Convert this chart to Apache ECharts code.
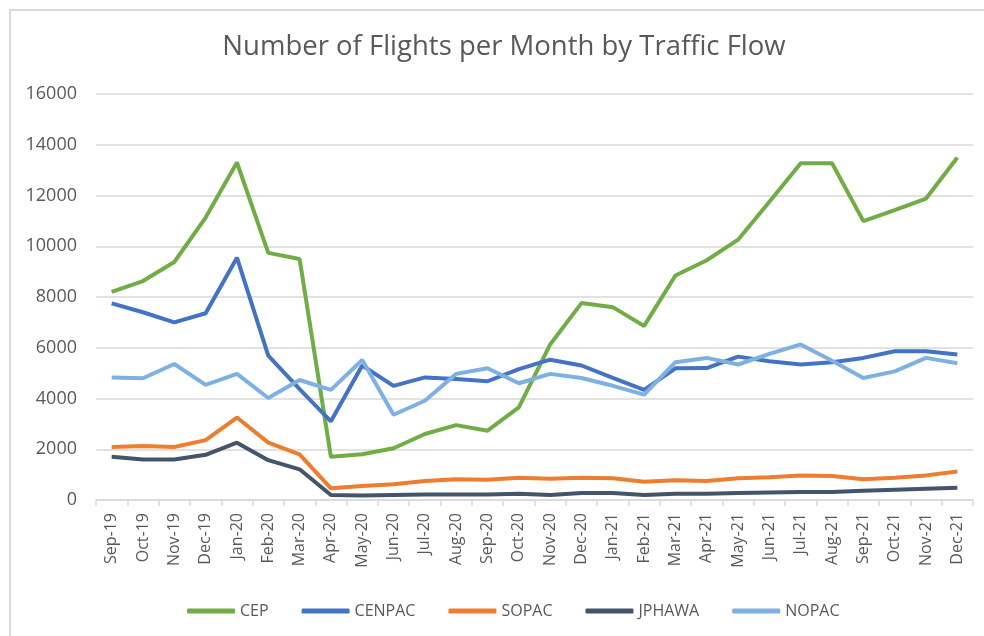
<!DOCTYPE html>
<html>
<head>
<meta charset="utf-8">
<script src="https://cdn.jsdelivr.net/npm/echarts@6/dist/echarts.min.js"></script>
<style>
  html, body { margin: 0; padding: 0; background: #fff; }
  #chart { width: 984px; height: 636px; }
</style>
</head>
<body>
<div id="chart"></div>
<script>
var months = ['Sep-19', 'Oct-19', 'Nov-19', 'Dec-19', 'Jan-20', 'Feb-20', 'Mar-20', 'Apr-20',
    'May-20', 'Jun-20', 'Jul-20', 'Aug-20', 'Sep-20', 'Oct-20', 'Nov-20', 'Dec-20',
    'Jan-21', 'Feb-21', 'Mar-21', 'Apr-21', 'May-21', 'Jun-21', 'Jul-21', 'Aug-21',
    'Sep-21', 'Oct-21', 'Nov-21', 'Dec-21'];

var cep = [8200, 8630, 9380, 11130, 13300, 9740, 9500, 1700, 1800, 2040, 2600, 2950, 2730, 3650,
    6130, 7760, 7600, 6860, 8850, 9450, 10260, 11750, 13270, 13270, 10990, 11420, 11880, 13500];
var cenpac = [7750, 7400, 7000, 7360, 9550, 5690, 4370, 3100, 5300, 4500, 4830, 4770, 4680, 5160,
    5530, 5300, 4810, 4340, 5190, 5200, 5650, 5470, 5340, 5430, 5600, 5860, 5860, 5730];
var sopac = [2090, 2130, 2090, 2360, 3250, 2260, 1800, 460, 550, 620, 750, 820, 800, 880,
    840, 880, 860, 720, 780, 750, 860, 900, 970, 950, 820, 880, 970, 1120];
var jphawa = [1700, 1600, 1600, 1780, 2260, 1570, 1210, 200, 180, 200, 220, 220, 220, 250,
    200, 280, 280, 200, 250, 250, 280, 300, 320, 320, 360, 400, 440, 480];
var nopac = [4830, 4800, 5360, 4540, 4970, 4020, 4730, 4340, 5520, 3360, 3910, 4970, 5190, 4600,
    4970, 4810, 4500, 4150, 5430, 5600, 5340, 5760, 6130, 5490, 4810, 5070, 5600, 5390];

var seriesNames = ['CEP', 'CENPAC', 'SOPAC', 'JPHAWA', 'NOPAC'];
var seriesData = [cep, cenpac, sopac, jphawa, nopac];
var seriesColors = ['#70AD47', '#4472C4', '#ED7D31', '#44546A', '#7EB1E1'];

var titleText = 'Number of Flights per Month by Traffic Flow';
var textColor = '#595959';
var fontName = '"Open Sans", Lato, sans-serif';

var chart = echarts.init(document.getElementById('chart'));

var series = [];
for (var i = 0; i < seriesNames.length; i++) {
    series.push({
        name: seriesNames[i],
        type: 'line',
        data: seriesData[i],
        showSymbol: false,
        symbol: 'none',
        color: seriesColors[i],
        lineStyle: { width: 4, color: seriesColors[i] }
    });
}

var option = {
    backgroundColor: '#fff',
    animation: false,
    textStyle: { fontFamily: fontName },
    graphic: [{
        // chart frame, open to the right and bottom like the source
        type: 'rect',
        shape: { x: 10, y: 10, width: 990, height: 650 },
        style: { fill: 'none', stroke: '#d9d9d9', lineWidth: 2 },
        silent: true
    }, {
        type: 'text',
        x: 504,
        y: 47,
        style: {
            text: titleText,
            fill: textColor,
            font: '27.5px ' + fontName,
            textAlign: 'center',
            textVerticalAlign: 'middle'
        },
        silent: true
    }],
    legend: {
        top: 598,
        left: 182,
        itemWidth: 48,
        itemHeight: 5,
        itemGap: 33,
        icon: 'roundRect',
        textStyle: { color: textColor, fontSize: 16, fontFamily: fontName },
        data: seriesNames
    },
    grid: {
        left: 96,
        right: 11,
        top: 94,
        bottom: 136
    },
    xAxis: {
        type: 'category',
        data: months,
        boundaryGap: true,
        axisLine: { lineStyle: { color: '#d9d9d9', width: 1.5 } },
        axisTick: { show: true, length: 6, lineStyle: { color: '#d9d9d9', width: 1.5 } },
        axisLabel: {
            rotate: 90,
            interval: 0,
            color: textColor,
            fontSize: 16,
            margin: 13,
            fontFamily: fontName
        }
    },
    yAxis: {
        type: 'value',
        min: 0,
        max: 16000,
        interval: 2000,
        axisLine: { show: false },
        axisTick: { show: false },
        splitLine: { lineStyle: { color: '#d9d9d9', width: 1.5 } },
        axisLabel: {
            color: textColor,
            fontSize: 18,
            margin: 19,
            fontFamily: fontName,
            formatter: function(v) { return String(v); }
        }
    },
    series: series
};

chart.setOption(option);
</script>
</body>
</html>
